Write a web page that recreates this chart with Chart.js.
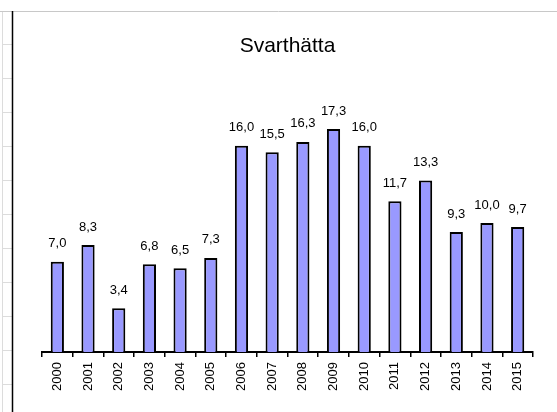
<!DOCTYPE html>
<html>
<head>
<meta charset="utf-8">
<script src="https://cdn.jsdelivr.net/npm/chart.js@4/dist/chart.umd.min.js"></script>
<style>
  html, body { margin: 0; padding: 0; background: #fff; }
  #wrap { position: relative; width: 557px; height: 412px; }
</style>
</head>
<body>
<div id="wrap"><canvas id="grafico" width="557" height="412"></canvas></div>
<script>
// data for the chart
const years = ["2000", "2001", "2002", "2003", "2004", "2005", "2006", "2007",
  "2008", "2009", "2010", "2011", "2012", "2013", "2014", "2015"];
const values = [7.0, 8.3, 3.4, 6.8, 6.5, 7.3, 16.0, 15.5, 16.3, 17.3, 16.0, 11.7, 13.3, 9.3, 10.0, 9.7];
const titleText = "Svarthätta";

const FONT = "'Liberation Sans', Arial, sans-serif";

// spreadsheet-like frame behind the chart
const framePlugin = {
  id: "frame",
  beforeDraw(chart) {
    const ctx = chart.ctx;
    ctx.save();
    ctx.fillStyle = "#fff";
    ctx.fillRect(0, 0, chart.width, chart.height);
    ctx.strokeStyle = "#dcdcdc";
    ctx.lineWidth = 1;
    ctx.beginPath();
    ctx.moveTo(2.5, 11); ctx.lineTo(2.5, 412);
    for (let y = 44; y < 412; y += 34) {
      ctx.moveTo(2, y + 0.5); ctx.lineTo(12, y + 0.5);
    }
    ctx.stroke();
    ctx.strokeStyle = "#c8c8c8";
    ctx.beginPath();
    ctx.moveTo(0, 11.5); ctx.lineTo(557, 11.5);
    ctx.stroke();
    ctx.strokeStyle = "#000";
    ctx.lineWidth = 1.5;
    ctx.beginPath();
    ctx.moveTo(12.5, 11); ctx.lineTo(12.5, 412);
    ctx.stroke();
    ctx.restore();
  }
};

// value labels above the bars, with decimal comma
const labelPlugin = {
  id: "valueLabels",
  afterDatasetsDraw(chart) {
    const ctx = chart.ctx;
    const meta = chart.getDatasetMeta(0);
    ctx.save();
    ctx.font = "13px " + FONT;
    ctx.fillStyle = "#000";
    ctx.textAlign = "center";
    ctx.textBaseline = "middle";
    meta.data.forEach((bar, i) => {
      ctx.fillText(values[i].toFixed(1).replace(".", ","), bar.x, bar.y - 18);
    });
    ctx.restore();
  }
};

const ctx = document.getElementById("grafico").getContext("2d");
new Chart(ctx, {
  type: "bar",
  data: {
    labels: years,
    datasets: [{
      data: values,
      backgroundColor: "#9999ff",
      borderColor: "#000",
      borderWidth: 2,
      borderSkipped: "bottom",
      barPercentage: 0.43,
      categoryPercentage: 1
    }]
  },
  options: {
    responsive: false,
    animation: false,
    layout: { padding: { left: 42, right: 24, top: 0, bottom: 0 } },
    plugins: {
      legend: { display: false },
      tooltip: { enabled: false },
      title: {
        display: true,
        text: titleText,
        color: "#000",
        font: { family: FONT, size: 21, weight: "normal" },
        padding: { top: 34, bottom: 35 }
      }
    },
    scales: {
      x: {
        grid: {
          display: true,
          drawOnChartArea: false,
          drawTicks: true,
          tickLength: 5,
          color: "#000",
          lineWidth: 1.5
        },
        border: { display: true, color: "#000", width: 2 },
        ticks: {
          color: "#000",
          font: { family: FONT, size: 13 },
          maxRotation: 90,
          minRotation: 90,
          padding: 5
        },
        afterFit(scale) { scale.height = 60; }
      },
      y: {
        display: false,
        min: 0,
        max: 20
      }
    }
  },
  plugins: [framePlugin, labelPlugin]
});
</script>
</body>
</html>
